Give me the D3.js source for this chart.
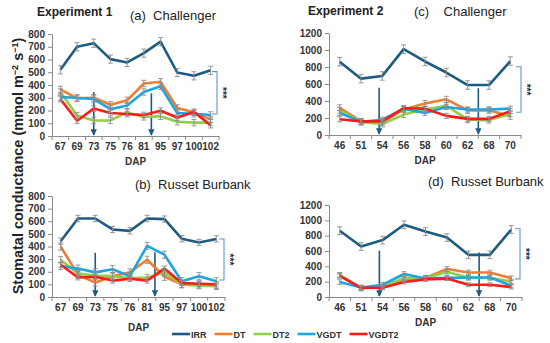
<!DOCTYPE html>
<html lang="en">
<head>
<meta charset="UTF-8">
<title>Stomatal conductance</title>
<script src="https://cdn.jsdelivr.net/npm/d3@7"></script>
<style>
  body { margin: 0; background: #fff; }
  svg text { font-family: "Liberation Sans", Arial, sans-serif; }
  .axis path, .axis line { stroke: #8a8a8a; }
  .axis text { font-size: 10px; font-weight: bold; fill: #333; }
</style>
</head>
<body>
<svg id="chart" width="550" height="343"></svg>
<script>
// ---- data ----
const seriesNames = ["IRR", "DT", "DT2", "VGDT", "VGDT2"];
const seriesColors = ["#1d5b82", "#f07d32", "#8fcf4a", "#1ba6e2", "#ff1a1a"];
const drawOrder = [0, 1, 2, 3, 4];

const dapExp1 = ["67", "69", "73", "75", "76", "81", "95", "97", "100", "102"];
const dapExp2 = ["46", "51", "54", "56", "58", "60", "62", "68", "70"];

// (a) Experiment 1, Challenger
const irrA   = [519, 700, 728, 603, 577, 650, 740, 498, 472, 515];
const dtA    = [365, 295, 300, 245, 280, 412, 425, 220, 185, 130];
const dt2A   = [345, 160, 122, 122, 185, 150, 155, 112, 105, 105];
const vgdtA  = [305, 300, 290, 210, 240, 345, 390, 180, 175, 165];
const vgdt2A = [290, 120, 215, 180, 172, 165, 198, 145, 188, 85];
const errA   = [32, 25, 25, 25, 22];

// (b) Experiment 1, Russet Burbank
const irrB   = [442, 622, 622, 535, 524, 622, 617, 462, 432, 460];
const dtB    = [400, 175, 115, 165, 195, 295, 160, 100, 100, 95];
const dt2B   = [295, 185, 170, 165, 150, 155, 195, 100, 90, 85];
const vgdtB  = [245, 225, 195, 220, 165, 405, 335, 125, 165, 125];
const vgdt2B = [255, 155, 160, 130, 145, 130, 225, 110, 105, 100];
const errB   = [25, 28, 25, 28, 20];

// (c) Experiment 2, Challenger
const irrC   = [863, 663, 695, 1010, 865, 735, 588, 588, 870];
const dtC    = [320, 160, 150, 300, 370, 420, 290, 290, 220];
const dt2C   = [290, 150, 130, 240, 300, 345, 180, 175, 250];
const vgdtC  = [260, 155, 180, 310, 260, 330, 300, 300, 310];
const vgdt2C = [185, 160, 160, 315, 310, 225, 190, 190, 280];
const errC   = [50, 35, 35, 30, 30];

// (d) Experiment 2, Russet Burbank
const irrD   = [865, 658, 742, 942, 853, 775, 550, 550, 880];
const dtD    = [280, 120, 130, 230, 250, 365, 320, 320, 245];
const dt2D   = [290, 110, 130, 250, 240, 330, 250, 250, 200];
const vgdtD  = [195, 125, 160, 300, 240, 250, 255, 255, 150];
const vgdt2D = [275, 120, 120, 195, 230, 240, 160, 160, 130];
const errD   = [50, 30, 30, 30, 25];

// arrows: position in category units, top value
const arrowPosExp1 = [2, 5.45];
const arrowPosExp2 = [1.85, 6.5];
const arrowTopA = [345, 335];
const arrowTopB = [350, 355];
const arrowTopC = [555, 550];
const arrowTopD = [605, 580];

// significance brackets: [top, bottom]
const bracketA = [505, 172];
const bracketB = [460, 135];
const bracketC = [803, 267];
const bracketD = [890, 236];

// ---- layout ----
const panels = [
  {series: [irrA, dtA, dt2A, vgdtA, vgdt2A], err: errA, cats: dapExp1, ymax: 800, ystep: 100,
   x0: 52, x1: 219, y0: 136, y1: 34, arrows: arrowPosExp1, arrowTop: arrowTopA, bracket: bracketA, bx: 217,
   title: "(a)  Challenger", tx: 130, ty: 20, dapY: 165},
  {series: [irrB, dtB, dt2B, vgdtB, vgdt2B], err: errB, cats: dapExp1, ymax: 800, ystep: 100,
   x0: 52, x1: 225, y0: 297, y1: 196, arrows: arrowPosExp1, arrowTop: arrowTopB, bracket: bracketB, bx: 224,
   title: "(b)  Russet Burbank", tx: 135, ty: 189, dapY: 331},
  {series: [irrC, dtC, dt2C, vgdtC, vgdt2C], err: errC, cats: dapExp2, ymax: 1200, ystep: 200,
   x0: 329, x1: 521, y0: 135, y1: 33, arrows: arrowPosExp2, arrowTop: arrowTopC, bracket: bracketC, bx: 521,
   title: "(c)    Challenger", tx: 414, ty: 16, dapY: 164},
  {series: [irrD, dtD, dt2D, vgdtD, vgdt2D], err: errD, cats: dapExp2, ymax: 1200, ystep: 200,
   x0: 329, x1: 522, y0: 297, y1: 205, arrows: arrowPosExp2, arrowTop: arrowTopD, bracket: bracketD, bx: 520,
   title: "(d)  Russet Burbank", tx: 428, ty: 186, dapY: 326}
];

const svg = d3.select("#chart");

svg.append("defs").append("marker")
    .attr("id", "arrowhead")
    .attr("viewBox", "0 0 10 10")
    .attr("refX", 9).attr("refY", 5)
    .attr("markerWidth", 4).attr("markerHeight", 4)
    .attr("markerUnits", "strokeWidth")
    .attr("orient", "auto")
  .append("path")
    .attr("d", "M0,0 L10,5 L0,10 z")
    .attr("fill", "#1d5b82");

function drawPanel(p) {
  const g = svg.append("g");
  const x = d3.scaleBand().domain(p.cats).range([p.x0, p.x1]);
  const y = d3.scaleLinear().domain([0, p.ymax]).range([p.y0, p.y1]);
  const cx = i => p.x0 + x.step() * (i + 0.5);

  // y axis
  g.append("g").attr("class", "axis")
      .attr("transform", `translate(${p.x0},0)`)
      .call(d3.axisLeft(y).tickValues(d3.range(0, p.ymax + 1, p.ystep))
            .tickFormat(d3.format("d"))
            .tickSize(4).tickSizeOuter(0).tickPadding(3));

  // x axis, ticks between categories
  const xa = g.append("g").attr("class", "axis")
      .attr("transform", `translate(0,${p.y0})`)
      .call(d3.axisBottom(x).tickSize(0).tickSizeOuter(0).tickPadding(7));
  xa.selectAll(".sep").data(d3.range(p.cats.length + 1)).join("line")
      .attr("class", "sep")
      .attr("x1", i => p.x0 + x.step() * i).attr("x2", i => p.x0 + x.step() * i)
      .attr("y1", 0).attr("y2", 4);

  g.append("text")
      .attr("x", (p.x0 + p.x1) / 2).attr("y", p.dapY)
      .attr("text-anchor", "middle")
      .attr("font-size", 10).attr("font-weight", "bold").attr("fill", "#333")
      .text("DAP");

  g.append("text")
      .attr("x", p.tx).attr("y", p.ty)
      .attr("font-size", 13).attr("fill", "#222")
      .attr("xml:space", "preserve")
      .text(p.title);

  // arrows
  p.arrows.forEach((pos, k) => {
    g.append("line")
        .attr("x1", cx(pos)).attr("x2", cx(pos))
        .attr("y1", y(p.arrowTop[k])).attr("y2", y(0) - 1)
        .attr("stroke", "#1d5b82").attr("stroke-width", 1.6)
        .attr("marker-end", "url(#arrowhead)");
  });

  // lines
  const line = d3.line().x((d, i) => cx(i)).y(d => y(d));
  drawOrder.forEach(s => {
    g.append("path")
        .datum(p.series[s])
        .attr("fill", "none")
        .attr("stroke", seriesColors[s])
        .attr("stroke-width", 2.6)
        .attr("stroke-linejoin", "round")
        .attr("d", line);
  });

  // error bars
  drawOrder.forEach(s => {
    const e = p.err[s];
    const eg = g.append("g").attr("stroke", "#8c8c8c").attr("stroke-width", 0.9);
    p.series[s].forEach((v, i) => {
      const xx = cx(i);
      eg.append("line").attr("x1", xx).attr("x2", xx).attr("y1", y(v - e)).attr("y2", y(v + e));
      eg.append("line").attr("x1", xx - 2.5).attr("x2", xx + 2.5).attr("y1", y(v + e)).attr("y2", y(v + e));
      eg.append("line").attr("x1", xx - 2.5).attr("x2", xx + 2.5).attr("y1", y(v - e)).attr("y2", y(v - e));
    });
  });

  // bracket with stars
  const [bt, bb] = p.bracket;
  g.append("path")
      .attr("d", `M${p.bx - 5},${y(bt)} H${p.bx} V${y(bb)} H${p.bx - 5}`)
      .attr("fill", "none").attr("stroke", "#5b9ac8").attr("stroke-width", 1.1);
  g.append("text")
      .attr("transform", `translate(${p.bx + 2},${(y(bt) + y(bb)) / 2}) rotate(90)`)
      .attr("text-anchor", "middle")
      .attr("font-size", 10).attr("font-weight", "bold").attr("fill", "#1e3550")
      .text("***");
}

panels.forEach(drawPanel);

// experiment headers
svg.append("text").attr("x", 37).attr("y", 16)
    .attr("font-size", 12).attr("font-weight", "bold").attr("fill", "#222")
    .text("Experiment 1");
svg.append("text").attr("x", 308).attr("y", 15)
    .attr("font-size", 12).attr("font-weight", "bold").attr("fill", "#222")
    .text("Experiment 2");

// y title
const yt = svg.append("text")
    .attr("transform", "translate(23,166) rotate(-90)")
    .attr("text-anchor", "middle")
    .attr("font-size", 14.5).attr("font-weight", "bold").attr("fill", "#222");
yt.append("tspan").text("Stomatal conductance (mmol m");
yt.append("tspan").attr("font-size", 9).attr("dy", -5).text("\u22122");
yt.append("tspan").attr("dy", 5).text(" s");
yt.append("tspan").attr("font-size", 9).attr("dy", -5).text("\u22121");
yt.append("tspan").attr("dy", 5).text(")");

// legend, laid out left to right
const leg = svg.append("g");
let lx = 172;
seriesNames.forEach((name, i) => {
  leg.append("line")
      .attr("x1", lx).attr("x2", lx + 18)
      .attr("y1", 334).attr("y2", 334)
      .attr("stroke", seriesColors[i]).attr("stroke-width", 2.6);
  const t = leg.append("text")
      .attr("x", lx + 19).attr("y", 337.5)
      .attr("font-size", 9).attr("font-weight", "bold").attr("fill", "#333")
      .text(name);
  lx += 19 + t.node().getComputedTextLength() + 8;
});
</script>
</body>
</html>
